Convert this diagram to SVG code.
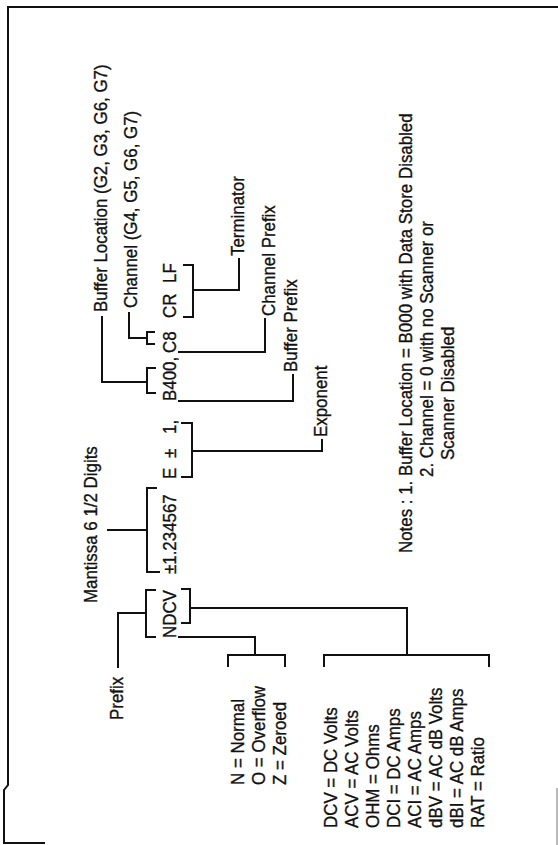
<svg xmlns="http://www.w3.org/2000/svg" width="558" height="845" viewBox="0 0 558 845">
<style>
text{font-family:"Liberation Sans",Arial,sans-serif;font-size:19px;fill:#111;stroke:#111;stroke-width:0.35}
.ln{fill:none;stroke:#111;stroke-width:2}
</style>
<rect width="558" height="845" fill="#fff"/>
<g id="border">
<polyline class="ln" points="558,7 8,7 8,785 4,790 4,843 45,843"/>
<line x1="557" y1="788" x2="557" y2="845" stroke="#777" stroke-width="1"/>
</g>
<g id="data-string">
<text transform="translate(176,638) rotate(-90) scale(0.89,1)">NDCV</text>
<text transform="translate(176,574) rotate(-90) scale(0.89,1)">±1.234567</text>
<text transform="translate(176,479) rotate(-90) scale(0.89,1)">E</text>
<text transform="translate(176,458) rotate(-90) scale(0.89,1)">±</text>
<text transform="translate(176,434) rotate(-90) scale(0.89,1)">1,</text>
<text transform="translate(176,401) rotate(-90) scale(0.89,1)">B400,</text>
<text transform="translate(176,353) rotate(-90) scale(0.89,1)">C8</text>
<text transform="translate(176,318) rotate(-90) scale(0.89,1)">CR</text>
<text transform="translate(176,283) rotate(-90) scale(0.89,1)">LF</text>
</g>
<g id="prefix"><text transform="translate(123,720) rotate(-90) scale(0.89,1)">Prefix</text></g>
<g id="mantissa"><text transform="translate(97,603) rotate(-90) scale(0.89,1)">Mantissa 6 1/2 Digits</text></g>
<g id="buffer-location"><text transform="translate(107,312) rotate(-90) scale(0.89,1)">Buffer Location (G2, G3, G6, G7)</text></g>
<g id="channel"><text transform="translate(137,308) rotate(-90) scale(0.89,1)">Channel (G4, G5, G6, G7)</text></g>
<g id="terminator"><text transform="translate(244,256) rotate(-90) scale(0.89,1)">Terminator</text></g>
<g id="channel-prefix"><text transform="translate(275,316) rotate(-90) scale(0.89,1)">Channel Prefix</text></g>
<g id="buffer-prefix"><text transform="translate(297,372) rotate(-90) scale(0.89,1)">Buffer Prefix</text></g>
<g id="exponent"><text transform="translate(327,437) rotate(-90) scale(0.89,1)">Exponent</text></g>
<g id="status-list">
<text transform="translate(244,785) rotate(-90) scale(0.89,1)">N = Normal</text>
<text transform="translate(265,785) rotate(-90) scale(0.89,1)">O = Overflow</text>
<text transform="translate(286,785) rotate(-90) scale(0.89,1)">Z = Zeroed</text>
</g>
<g id="function-list">
<text transform="translate(337,828) rotate(-90) scale(0.89,1)">DCV = DC Volts</text>
<text transform="translate(358,828) rotate(-90) scale(0.89,1)">ACV = AC Volts</text>
<text transform="translate(379,828) rotate(-90) scale(0.89,1)">OHM = Ohms</text>
<text transform="translate(400,828) rotate(-90) scale(0.89,1)">DCI = DC Amps</text>
<text transform="translate(421,828) rotate(-90) scale(0.89,1)">ACI = AC Amps</text>
<text transform="translate(442,828) rotate(-90) scale(0.89,1)">dBV = AC dB Volts</text>
<text transform="translate(463,828) rotate(-90) scale(0.89,1)">dBI = AC dB Amps</text>
<text transform="translate(484,828) rotate(-90) scale(0.89,1)">RAT = Ratio</text>
</g>
<g id="notes">
<text transform="translate(412,553) rotate(-90) scale(0.89,1)">Notes : 1. Buffer Location = B000 with Data Store Disabled</text>
<text transform="translate(433,477) rotate(-90) scale(0.89,1)">2. Channel = 0 with no Scanner or</text>
<text transform="translate(454,460) rotate(-90) scale(0.89,1)">Scanner Disabled</text>
</g>
<g id="connectors">
<polyline class="ln" points="118,668 118,613 146,613"/>
<polyline class="ln" points="156,590 146,590 146,637 156,637"/>
<polyline class="ln" points="181,589 190,589 190,623 181,623"/>
<polyline class="ln" points="190,608 407,608 407,655"/>
<polyline class="ln" points="324,667 324,655 489,655 489,667"/>
<polyline class="ln" points="178,637 255,637 255,655"/>
<polyline class="ln" points="228,667 228,655 285,655 285,667"/>
<line class="ln" x1="107" y1="530" x2="147" y2="530"/>
<polyline class="ln" points="157,488 147,488 147,572 160,572"/>
<polyline class="ln" points="181,423 192,423 192,477 181,477"/>
<polyline class="ln" points="192,451 322,451 322,439"/>
<polyline class="ln" points="156,368 147,368 147,393 156,393"/>
<polyline class="ln" points="102,316 102,382 147,382"/>
<polyline class="ln" points="178,401 293,401 293,374"/>
<polyline class="ln" points="155,332 147,332 147,344 155,344"/>
<polyline class="ln" points="129,312 129,338 147,338"/>
<polyline class="ln" points="178,352 265,352 265,318"/>
<polyline class="ln" points="183,265 193,265 193,317 183,317"/>
<polyline class="ln" points="193,290 239,290 239,258"/>
</g>
</svg>
